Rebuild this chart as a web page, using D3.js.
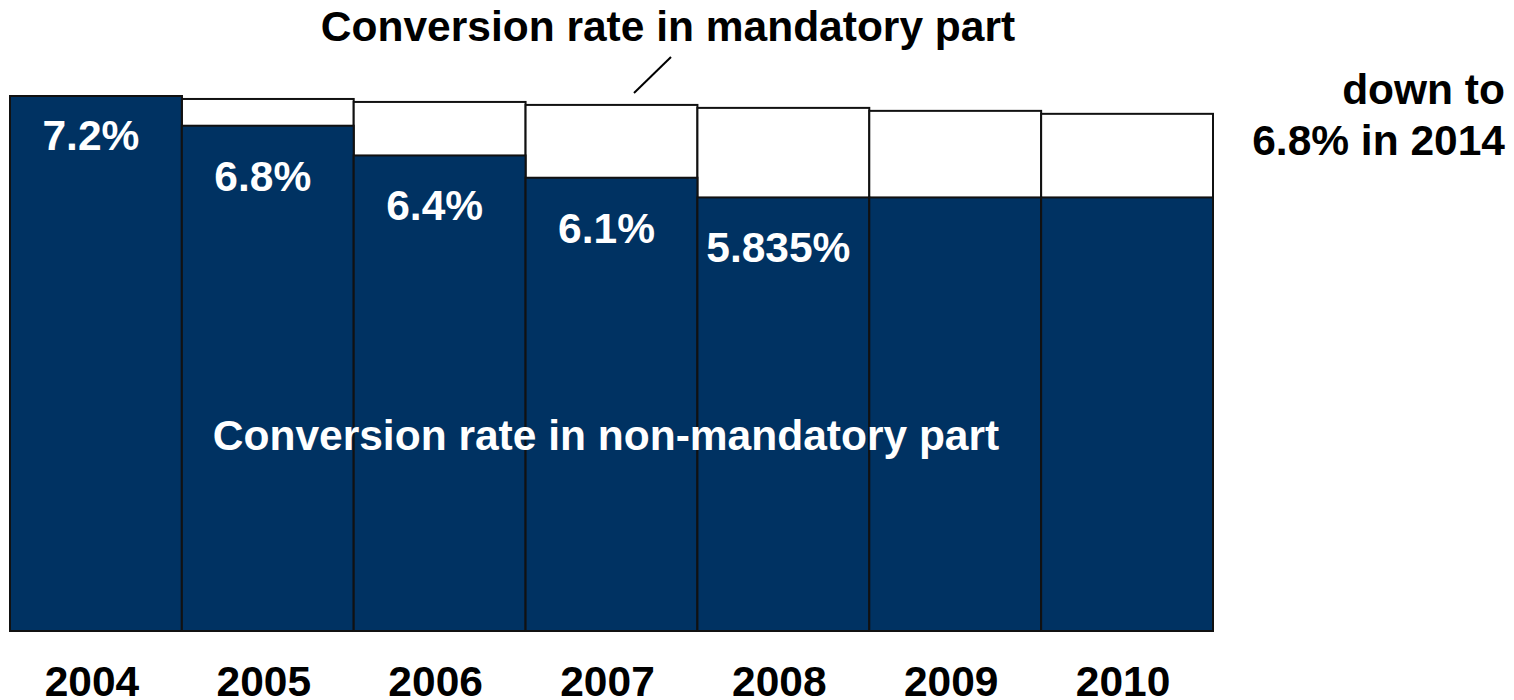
<!DOCTYPE html>
<html><head><meta charset="utf-8">
<script src="https://cdn.jsdelivr.net/npm/d3@7/dist/d3.min.js"></script>
<style>body{margin:0;background:#fff}svg{display:block}text{font-family:"Liberation Sans",Arial,sans-serif;font-weight:bold}</style>
</head><body><svg id="c" width="1514" height="700"></svg>
<script>
const years = ["2004","2005","2006","2007","2008","2009","2010"];
const nonMandatory = [7.2, 6.8, 6.4, 6.1, 5.835, 5.835, 5.835];
const mandatory = [7.2, 7.16, 7.12, 7.08, 7.04, 7.0, 6.96];
const barLabels = ["7.2%","6.8%","6.4%","6.1%","5.835%","",""];

const svg = d3.select("#c");
const x = d3.scaleBand().domain(years).range([10,1213]).padding(0);
const y = d3.scaleLinear().domain([0,7.2]).range([631,96]);
const dark = "#003262";
const fs = 42.5;

// mandatory (white) bars
svg.selectAll("rect.m").data(years).join("rect")
  .attr("x", d=>x(d)).attr("width", x.bandwidth())
  .attr("y", (d,i)=>y(mandatory[i])).attr("height",(d,i)=>y(0)-y(mandatory[i]))
  .attr("fill","#fff").attr("stroke","#111").attr("stroke-width",2);
// non-mandatory (dark) bars
svg.selectAll("rect.n").data(years).join("rect")
  .attr("x", d=>x(d)).attr("width", x.bandwidth())
  .attr("y", (d,i)=>y(nonMandatory[i])).attr("height",(d,i)=>y(0)-y(nonMandatory[i]))
  .attr("fill",dark).attr("stroke","#111").attr("stroke-width",2);

// value labels
svg.selectAll("text.v").data(years).join("text")
  .attr("x", d=>x(d)+x.bandwidth()/2-5)
  .attr("y", (d,i)=>y(nonMandatory[i]) + (i===0?54:65))
  .attr("text-anchor","middle").attr("fill","#fff").attr("font-size",fs)
  .text((d,i)=>barLabels[i]);

// year axis labels
svg.selectAll("text.yr").data(years).join("text")
  .attr("x", d=>x(d)+x.bandwidth()/2-4).attr("y",696)
  .attr("text-anchor","middle").attr("fill","#000").attr("font-size",fs)
  .text(d=>d);

// annotations
svg.append("text").attr("x",668).attr("y",41).attr("text-anchor","middle")
  .attr("font-size",fs).attr("fill","#000").text("Conversion rate in mandatory part");
svg.append("line").attr("x1",634).attr("y1",93).attr("x2",671).attr("y2",57)
  .attr("stroke","#000").attr("stroke-width",2);
svg.append("text").attr("x",606).attr("y",450).attr("text-anchor","middle")
  .attr("font-size",fs).attr("fill","#fff").text("Conversion rate in non-mandatory part");
svg.append("text").attr("x",1505).attr("y",104).attr("text-anchor","end")
  .attr("font-size",fs).attr("fill","#000").text("down to");
svg.append("text").attr("x",1505).attr("y",155).attr("text-anchor","end")
  .attr("font-size",fs).attr("fill","#000").text("6.8% in 2014");
</script></body></html>
